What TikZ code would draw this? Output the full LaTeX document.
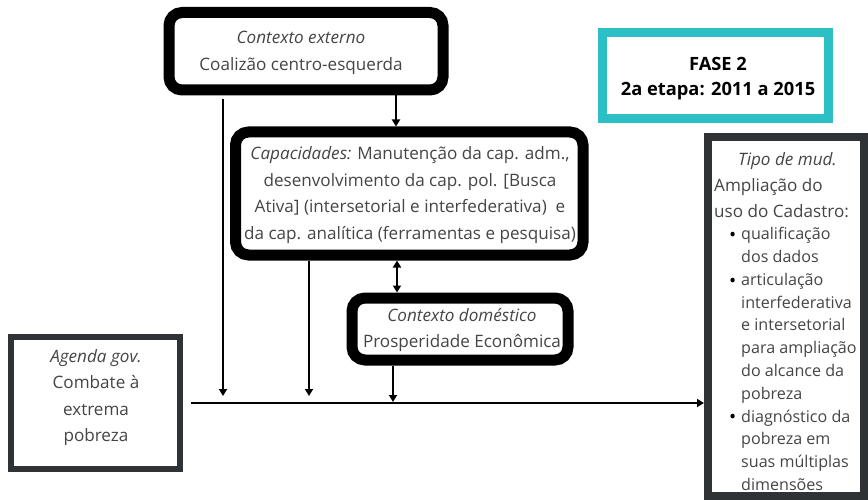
\documentclass[tikz,border=0pt]{standalone}
\usepackage{fontspec}
\setmainfont{Open Sans}
\usetikzlibrary{arrows.meta}
\definecolor{txt}{HTML}{454545}
\definecolor{tealc}{HTML}{2CC0C6}
\definecolor{darkc}{HTML}{2F3335}
\newcommand{\bul}{\llap{\raisebox{-1.8pt}{\textcolor{black}{\fontsize{19}{19}\selectfont\textbullet}}\hspace{5pt}}}
\begin{document}
\begin{tikzpicture}[x=1pt,y=-1pt,
  every node/.style={inner sep=0pt, text=txt},
  roundbox/.style={draw=black, line width=11pt, rounded corners=13pt, fill=white},
  sqbox/.style={draw=darkc, line width=6pt, fill=white},
  arr/.style={line width=1.8pt, -{Triangle[length=7pt,width=8pt]}},
  darr/.style={line width=1.8pt, {Triangle[length=7pt,width=8pt]}-{Triangle[length=7pt,width=8pt]}},
  bodyfont/.style={font=\fontsize{17.1}{26.5}\selectfont},
  listfont/.style={font=\fontsize{16.1}{22.8}\selectfont}]
\useasboundingbox (0,0) rectangle (868,500);
\fill[white] (0,0) rectangle (868,500);

% boxes
\node[roundbox, minimum width=274pt, minimum height=77.5pt] (ext) at (306,51.25) {};
\node[bodyfont, align=center] (extt) at (301,53) {\itshape Contexto externo\\Coalizão centro-esquerda};

\node[roundbox, minimum width=347.5pt, minimum height=123pt] (cap) at (409.25,193.5) {};
\node[bodyfont, align=center] (capt) at (410,195) {\textit{Capacidades:} Manutenção da cap. adm.,\\ desenvolvimento da cap. pol. [Busca\\Ativa] (intersetorial e interfederativa)\ \ e\\da cap. analítica (ferramentas e pesquisa)};

\node[roundbox, minimum width=216pt, minimum height=62pt] (dom) at (460,329) {};
\node[bodyfont, align=center] (domt) at (462,330) {\itshape Contexto doméstico\\Prosperidade Econômica};

\node[sqbox, minimum width=168.5pt, minimum height=132.5pt] (ag) at (95.25,402.75) {};
\node[bodyfont, align=center] (agt) at (96,397.5) {\itshape Agenda gov.\\Combate à\\extrema\\pobreza};

\node[draw=tealc, line width=9pt, fill=white, minimum width=226pt, minimum height=86pt] (fase) at (715.5,75.5) {};
\node[font=\fontsize{18.3}{25.5}\selectfont\bfseries, text=black, align=center] (faset) at (718,78.5) {FASE 2\\2a etapa: 2011 a 2015};

\node[draw=darkc, line width=8pt, fill=white, minimum width=156pt, minimum height=359pt] (tipo) at (786,316.5) {};
\node[bodyfont] (tipoh) at (787.5,161) {\itshape Tipo de mud.};
\node[bodyfont, align=left, anchor=west] (tipob) at (714,198) {Ampliação do\\uso do Cadastro:};
\node[listfont, align=left, anchor=west] (tipol) at (741,359) {\bul qualificação\\dos dados\\\bul articulação\\interfederativa\\e intersetorial\\para ampliação\\do alcance da\\pobreza\\\bul diagnóstico da\\pobreza em\\suas múltiplas\\dimensões};

% connectors
\coordinate (hs) at (191,403);
\coordinate (v1s) at (223,99);
\coordinate (v1e) at (223,396);
\coordinate (v2e) at (309,396);
\coordinate (v3e) at (393,402);

\draw[arr] (hs) -- (hs -| tipo.west);
\draw[arr] (v1s) -- (v1e);
\draw[arr] (cap.south -| v2e) -- (v2e);
\draw[arr] (dom.south -| v3e) -- (v3e);
\draw[arr] (ext.south -| 396,0) -- (cap.north -| 396,0);
\draw[darr] (cap.south -| 397,0) -- (dom.north -| 397,0);
\end{tikzpicture}
\end{document}
